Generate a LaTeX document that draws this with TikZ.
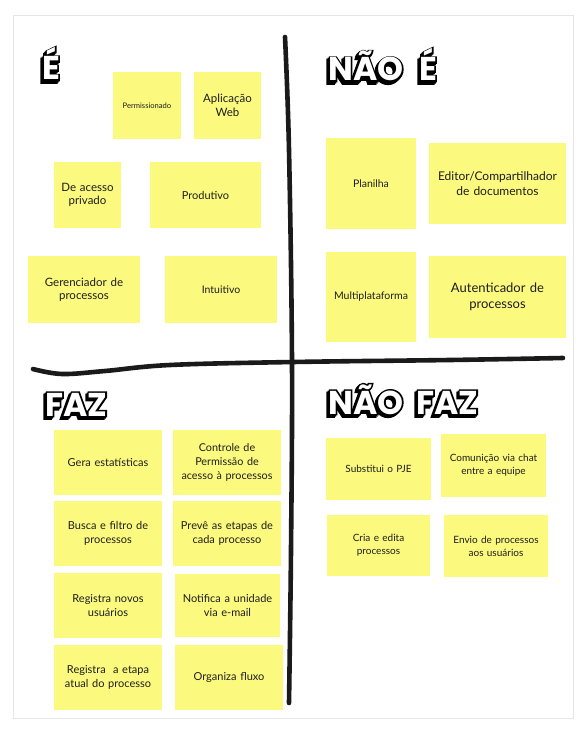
\documentclass[tikz,border=0pt]{standalone}
\usepackage{fontspec}
\setmainfont{Lato}
\newfontfamily\headfont{Poppins}
\newfontfamily\headstroke{Poppins}[FakeBold=9]
\usetikzlibrary{calc}

\definecolor{sticky}{RGB}{251,249,126}
\definecolor{ink}{RGB}{30,30,30}
\definecolor{marker}{RGB}{26,26,26}
\definecolor{framegray}{RGB}{230,230,230}

% Block letters: stroked black copies for outline and down-left extrusion,
% white face on top
\newcommand\bubbletext[1]{%
  \rlap{\kern-2.4pt\raisebox{-2.4pt}{\headstroke\bfseries\textcolor{black}{#1}}}%
  \rlap{\kern-1.2pt\raisebox{-1.2pt}{\headstroke\bfseries\textcolor{black}{#1}}}%
  \rlap{\headstroke\bfseries\textcolor{black}{#1}}%
  \textcolor{white}{#1}}

% Sticky note: name, x1, y1, x2, y2, font size, line skip, text
\newcommand\sticky[8]{%
  \node[note, minimum width={#4-#2}, minimum height={#5-#3},
        text width={#4-#2-8}, font=\fontsize{#6}{#7}\selectfont]
    (#1) at ({(#2+#4)/2},{(#3+#5)/2}) {#8};}

\tikzset{
  note/.style={fill=sticky, draw=none, inner sep=0pt, align=center,
               text=ink},
  heading/.style={anchor=base west, inner sep=0pt,
                  font=\headfont\bfseries\fontsize{33}{33}\selectfont},
  divider/.style={draw=marker, line width=4.6pt, line cap=round,
                  line join=round},
}

\begin{document}
\begin{tikzpicture}[x=1pt, y=-1pt]
  % page and board
  \fill[white] (0,0) rectangle (588,730);
  \useasboundingbox (0,0) rectangle (588,730);
  \draw[framegray, line width=1pt, fill=white] (13,16) rectangle (573,718);

  % hand-drawn quadrant dividers
  \draw[divider] plot[smooth, tension=0.6] coordinates
    {(285,37) (289,150) (292,362) (291,550) (289,703)};
  \draw[divider] plot[smooth, tension=0.6] coordinates
    {(33,369) (62,374) (105,371) (170,365) (293,362) (450,360) (563,358)};

  % quadrant titles
  \node[heading] (hE) at (42,80) {\bubbletext{É}};
  \node[heading] (hNE) at (328,81) {\bubbletext{NÃO\hspace{16pt}É}};
  \node[heading] (hF) at (45,416) {\bubbletext{FAZ}};
  \node[heading] (hNF) at (328,414) {\bubbletext{NÃO\hspace{13pt}FAZ}};

  % É
  \sticky{e1}{113}{72}{181}{139}{7.6}{9}{Permissionado}
  \sticky{e2}{194}{72}{261}{139}{11.5}{14}{Aplicação\\Web}
  \sticky{e3}{54}{162}{121}{228}{11.5}{13.5}{De acesso\\privado}
  \sticky{e4}{150}{162}{261}{228}{11}{13.5}{Produtivo}
  \sticky{e5}{28}{256}{140}{323}{11.5}{13.5}{Gerenciador de\\processos}
  \sticky{e6}{165}{256}{277}{323}{10.5}{13}{Intuitivo}

  % NÃO É
  \sticky{n1}{326}{138}{416}{229}{10.5}{13}{Planilha}
  \sticky{n2}{429}{143}{566}{224}{12}{15.5}{Editor/Compartilhador\\de documentos}
  \sticky{n3}{326}{252}{416}{342}{10.5}{13}{Multiplataforma}
  \sticky{n4}{429}{256}{566}{338}{13}{15.5}{Autenticador de\\processos}

  % FAZ
  \sticky{f1}{54}{430}{162}{495}{11}{13.5}{Gera estatísticas}
  \sticky{f2}{173}{430}{281}{495}{10.8}{13.7}{Controle de\\Permissão de\\acesso à processos}
  \sticky{f3}{54}{501}{162}{566}{11}{13.5}{Busca e filtro de\\processos}
  \sticky{f4}{173}{501}{281}{566}{11}{13.5}{Prevê as etapas de\\cada processo}
  \sticky{f5}{54}{573}{162}{638}{11}{13.5}{Registra novos\\usuários}
  \sticky{f6}{175}{574}{280}{637}{11}{13.5}{Notifica a unidade\\via e-mail}
  \sticky{f7}{54}{645}{162}{710}{11}{13.5}{Registra~ a etapa\\atual do processo}
  \sticky{f8}{175}{645}{283}{710}{11}{13.5}{Organiza fluxo}

  % NÃO FAZ
  \sticky{x1}{326}{438}{431}{500}{10}{13}{Substitui o PJE}
  \sticky{x2}{441}{434}{546}{497}{10}{13}{Comunição via chat\\entre a equipe}
  \sticky{x3}{327}{515}{430}{576}{10}{13}{Cria e edita\\processos}
  \sticky{x4}{444}{515}{548}{577}{10}{13}{Envio de processos\\aos usuários}
\end{tikzpicture}
\end{document}
